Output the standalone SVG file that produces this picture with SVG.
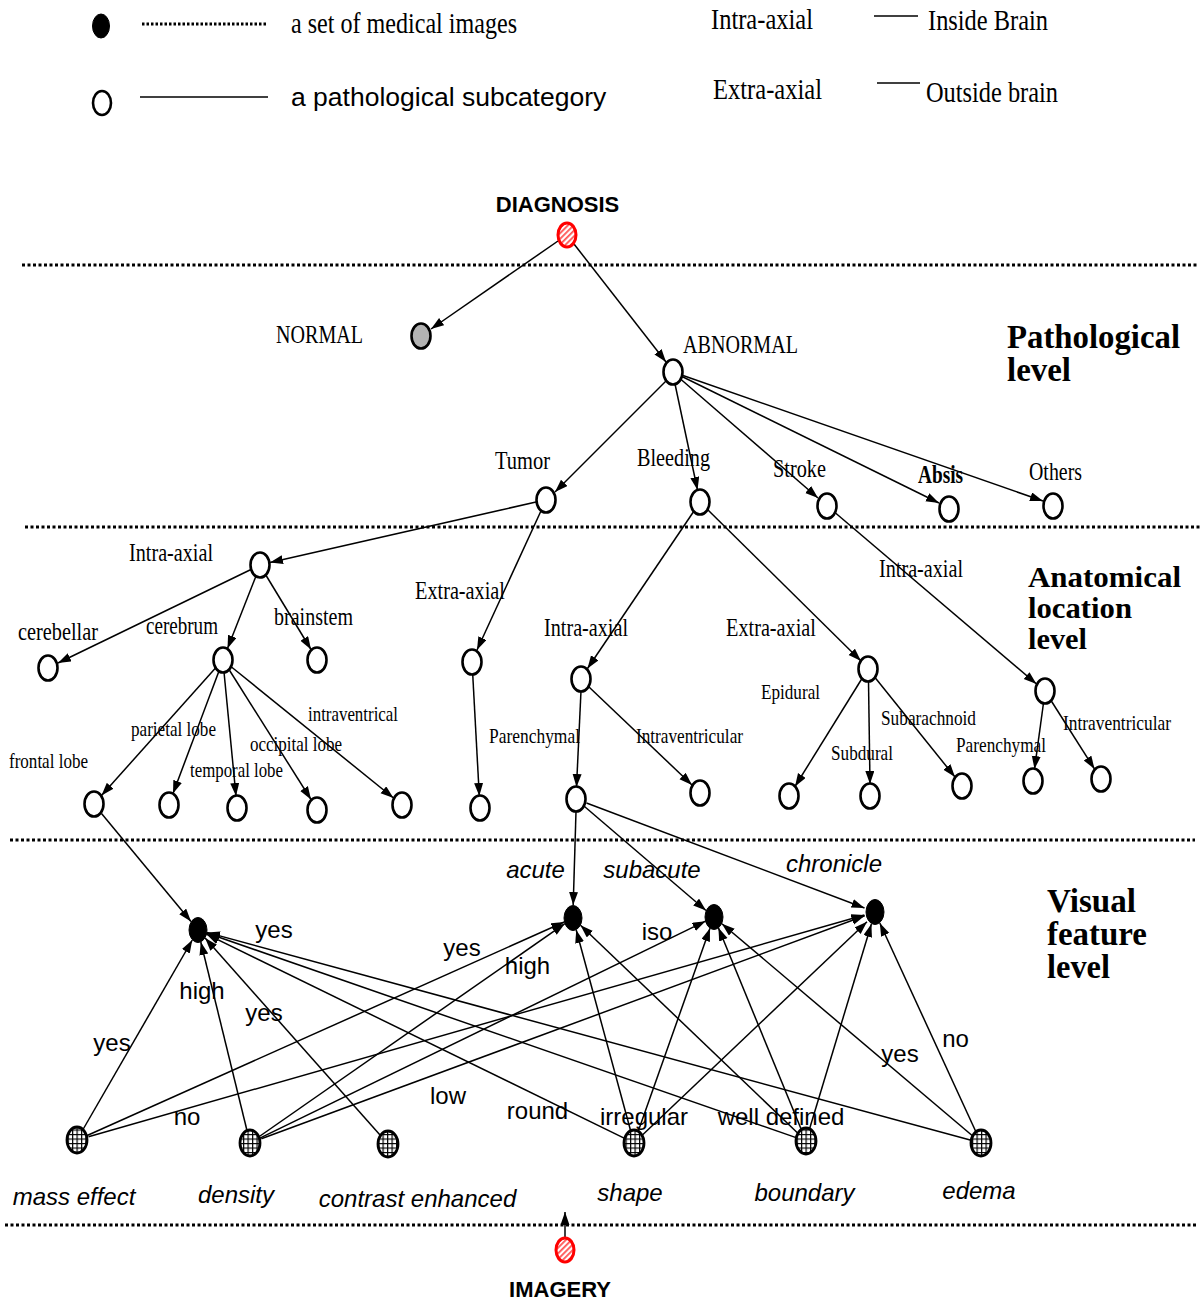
<svg xmlns="http://www.w3.org/2000/svg" width="1201" height="1302" viewBox="0 0 1201 1302">
<defs>
<marker id="arr" markerUnits="userSpaceOnUse" markerWidth="14" markerHeight="10" refX="13" refY="4.5" orient="auto"><path d="M0,0 L13,4.5 L0,9 z" fill="#000"/></marker>
<pattern id="hatch" patternUnits="userSpaceOnUse" width="4" height="4" patternTransform="rotate(-45)"><rect width="4" height="4" fill="#fff"/><rect width="4" height="1.8" fill="#f55"/></pattern>
<pattern id="grid" patternUnits="userSpaceOnUse" width="4.5" height="4.5"><rect width="4.5" height="4.5" fill="#fff"/><path d="M0,0.6 H4.5 M0.6,0 V4.5" stroke="#000" stroke-width="1.2"/></pattern>
</defs>
<style>
.n{fill:#fff;stroke:#000;stroke-width:2.6}
.v{fill:#000;stroke:#000;stroke-width:1}
.g{fill:url(#grid);stroke:#000;stroke-width:2.8}
.r{fill:url(#hatch);stroke:#f00;stroke-width:3}
.e{stroke:#000;stroke-width:1.5;fill:none;marker-end:url(#arr)}
.dot{stroke:#000;stroke-width:3;stroke-dasharray:3 2.5}
.t{font-family:"Liberation Serif","Times New Roman",serif;font-size:26px;fill:#000}
.ts{font-family:"Liberation Serif","Times New Roman",serif;font-size:22px;fill:#000}
.tl{font-family:"Liberation Serif","Times New Roman",serif;font-size:30px;fill:#000}
.h{font-family:"Liberation Serif","Times New Roman",serif;font-size:33px;font-weight:bold;fill:#000}
.h2{font-family:"Liberation Serif","Times New Roman",serif;font-size:30px;font-weight:bold;fill:#000}
.s{font-family:"Liberation Sans",Arial,sans-serif;font-size:24px;fill:#000}
.si{font-family:"Liberation Sans",Arial,sans-serif;font-size:24px;font-style:italic;fill:#000}
.b{font-family:"Liberation Sans",Arial,sans-serif;font-size:22px;font-weight:bold;fill:#000}
</style>
<rect width="1201" height="1302" fill="#fff"/>

<g id="legend">
<ellipse cx="101" cy="26" rx="8.5" ry="12" class="v"/>
<line x1="142" y1="24" x2="267" y2="24" stroke="#000" stroke-width="3" stroke-dasharray="2.5 2"/>
<text x="291" y="33" class="tl" textLength="226" lengthAdjust="spacingAndGlyphs">a set of medical images</text>
<ellipse cx="102" cy="103" rx="9" ry="12" class="n"/>
<line x1="140" y1="97" x2="268" y2="97" stroke="#000" stroke-width="1.6"/>
<text x="291" y="106" class="s" style="font-size:26.5px">a pathological subcategory</text>
<text x="711" y="29" class="tl" textLength="102" lengthAdjust="spacingAndGlyphs">Intra-axial</text>
<line x1="874" y1="16" x2="918" y2="16" stroke="#000" stroke-width="1.6"/>
<text x="928" y="30" class="tl" textLength="120" lengthAdjust="spacingAndGlyphs">Inside Brain</text>
<text x="713" y="99" class="tl" textLength="109" lengthAdjust="spacingAndGlyphs">Extra-axial</text>
<line x1="877" y1="83" x2="920" y2="83" stroke="#000" stroke-width="1.6"/>
<text x="926" y="102" class="tl" textLength="132" lengthAdjust="spacingAndGlyphs">Outside brain</text>
</g>

<g id="dividers">
<line x1="22" y1="265" x2="1198" y2="265" class="dot"/>
<line x1="25" y1="527" x2="1200" y2="527" class="dot"/>
<line x1="10" y1="840" x2="1195" y2="840" class="dot"/>
<line x1="5" y1="1225" x2="1198" y2="1225" class="dot"/>
</g>

<g id="levels">
<text x="1007" y="348" class="h" textLength="173" lengthAdjust="spacingAndGlyphs">Pathological</text>
<text x="1007" y="381" class="h" textLength="64" lengthAdjust="spacingAndGlyphs">level</text>
<text x="1028" y="587" class="h2" textLength="153" lengthAdjust="spacingAndGlyphs">Anatomical</text>
<text x="1028" y="618" class="h2" textLength="104" lengthAdjust="spacingAndGlyphs">location</text>
<text x="1028" y="649" class="h2" textLength="59" lengthAdjust="spacingAndGlyphs">level</text>
<text x="1047" y="912" class="h" textLength="89" lengthAdjust="spacingAndGlyphs">Visual</text>
<text x="1047" y="945" class="h" textLength="100" lengthAdjust="spacingAndGlyphs">feature</text>
<text x="1047" y="978" class="h" textLength="63" lengthAdjust="spacingAndGlyphs">level</text>
</g>

<g id="connectors">
<line x1="558" y1="241" x2="431" y2="329" class="e"/>
<line x1="574" y1="244" x2="666" y2="362" class="e"/>
<line x1="666" y1="381" x2="555" y2="492" class="e"/>
<line x1="675" y1="384" x2="697.5" y2="490" class="e"/>
<line x1="680.5" y1="379" x2="818" y2="498" class="e"/>
<line x1="682" y1="376.5" x2="939" y2="503" class="e"/>
<line x1="683" y1="375.5" x2="1043" y2="501" class="e"/>
<line x1="536" y1="502" x2="270" y2="562.5" class="e"/>
<line x1="541.4" y1="510" x2="477" y2="650" class="e"/>
<line x1="251" y1="569.5" x2="58" y2="663" class="e"/>
<line x1="256" y1="576" x2="227.5" y2="648.5" class="e"/>
<line x1="265.5" y1="574.5" x2="311" y2="649.5" class="e"/>
<line x1="215.5" y1="668" x2="101.5" y2="795.5" class="e"/>
<line x1="219" y1="671" x2="173" y2="793.5" class="e"/>
<line x1="224" y1="672" x2="236" y2="796" class="e"/>
<line x1="229" y1="669.5" x2="311" y2="799.5" class="e"/>
<line x1="231.5" y1="667" x2="393.5" y2="798" class="e"/>
<line x1="472.7" y1="674" x2="479.3" y2="796" class="e"/>
<line x1="694" y1="511" x2="587.5" y2="668.5" class="e"/>
<line x1="708" y1="510" x2="861" y2="661" class="e"/>
<line x1="581" y1="691" x2="576.5" y2="787" class="e"/>
<line x1="589" y1="687" x2="692" y2="785" class="e"/>
<line x1="862" y1="678.5" x2="795" y2="786.5" class="e"/>
<line x1="868.5" y1="681" x2="870" y2="784" class="e"/>
<line x1="875" y1="677.5" x2="955" y2="777" class="e"/>
<line x1="835.5" y1="513" x2="1036.5" y2="684" class="e"/>
<line x1="1043.5" y1="703" x2="1034.5" y2="769" class="e"/>
<line x1="1051" y1="700.5" x2="1094.5" y2="769" class="e"/>
<line x1="101.5" y1="813.5" x2="191" y2="921.5" class="e"/>
<line x1="576" y1="811.5" x2="573.2" y2="905" class="e"/>
<line x1="584.5" y1="806.5" x2="706" y2="910.5" class="e"/>
<line x1="586.5" y1="803" x2="864.5" y2="908" class="e"/>
<line x1="82.7" y1="1130" x2="192.3" y2="940" class="e"/>
<line x1="86.6" y1="1135.7" x2="564.2" y2="922" class="e"/>
<line x1="88.5" y1="1136.7" x2="864.4" y2="915" class="e"/>
<line x1="247.1" y1="1131" x2="200.8" y2="942" class="e"/>
<line x1="258.6" y1="1137" x2="564.8" y2="923.7" class="e"/>
<line x1="259.4" y1="1138.4" x2="705.5" y2="921.2" class="e"/>
<line x1="261.3" y1="1138.8" x2="864.7" y2="915.8" class="e"/>
<line x1="380.7" y1="1135.8" x2="205.1" y2="938" class="e"/>
<line x1="624.6" y1="1138.4" x2="206.5" y2="934.2" class="e"/>
<line x1="630.7" y1="1131" x2="576.2" y2="930" class="e"/>
<line x1="638.2" y1="1131.2" x2="710" y2="928.3" class="e"/>
<line x1="642.7" y1="1134.7" x2="867" y2="921.7" class="e"/>
<line x1="796.1" y1="1137.6" x2="206.8" y2="933" class="e"/>
<line x1="798.4" y1="1133.7" x2="580.5" y2="925.2" class="e"/>
<line x1="801.4" y1="1129.8" x2="718.4" y2="927.8" class="e"/>
<line x1="809.5" y1="1129" x2="871.4" y2="924" class="e"/>
<line x1="971.1" y1="1140.3" x2="206.9" y2="932.4" class="e"/>
<line x1="973" y1="1136.2" x2="721.9" y2="923.7" class="e"/>
<line x1="976" y1="1132" x2="879.8" y2="923" class="e"/>
<line x1="565" y1="1238" x2="565" y2="1212" class="e"/>
</g>

<g id="edge-labels">
<text x="535.5" y="878" class="si" text-anchor="middle">acute</text>
<text x="652" y="878" class="si" text-anchor="middle">subacute</text>
<text x="834" y="872" class="si" text-anchor="middle">chronicle</text>
<text x="274" y="938" class="s" text-anchor="middle">yes</text>
<text x="462" y="956" class="s" text-anchor="middle">yes</text>
<text x="527.5" y="974" class="s" text-anchor="middle">high</text>
<text x="657" y="940" class="s" text-anchor="middle">iso</text>
<text x="202" y="999" class="s" text-anchor="middle">high</text>
<text x="264" y="1021" class="s" text-anchor="middle">yes</text>
<text x="112" y="1051" class="s" text-anchor="middle">yes</text>
<text x="187" y="1125" class="s" text-anchor="middle">no</text>
<text x="448" y="1104" class="s" text-anchor="middle">low</text>
<text x="537.5" y="1119" class="s" text-anchor="middle">round</text>
<text x="644" y="1125" class="s" text-anchor="middle">irregular</text>
<text x="781" y="1125" class="s" text-anchor="middle">well defined</text>
<text x="900" y="1062" class="s" text-anchor="middle">yes</text>
<text x="955.5" y="1047" class="s" text-anchor="middle">no</text>
</g>

<g id="n-diagnosis"><ellipse cx="567" cy="235" rx="9" ry="12" class="r"/><text x="557.5" y="212" class="b" text-anchor="middle">DIAGNOSIS</text></g>
<g id="n-normal"><ellipse cx="421" cy="336" rx="9.5" ry="12.5" fill="#b3b3b3" stroke="#000" stroke-width="2.6"/><text x="276" y="343" class="t" textLength="87" lengthAdjust="spacingAndGlyphs">NORMAL</text></g>
<g id="n-abnormal"><ellipse cx="673" cy="372" rx="9.5" ry="12.5" class="n"/><text x="683" y="353" class="t" textLength="115" lengthAdjust="spacingAndGlyphs">ABNORMAL</text></g>
<g id="n-tumor"><ellipse cx="546" cy="500" rx="9.5" ry="12.5" class="n"/><text x="495" y="469" class="t" textLength="55" lengthAdjust="spacingAndGlyphs">Tumor</text></g>
<g id="n-bleeding"><ellipse cx="700" cy="502" rx="9.5" ry="12.5" class="n"/><text x="637" y="466" class="t" textLength="73" lengthAdjust="spacingAndGlyphs">Bleeding</text></g>
<g id="n-stroke"><ellipse cx="827" cy="506" rx="9.5" ry="12.5" class="n"/><text x="773" y="477" class="t" textLength="53" lengthAdjust="spacingAndGlyphs">Stroke</text></g>
<g id="n-absis"><ellipse cx="949" cy="509" rx="9.5" ry="12.5" class="n"/><text x="918" y="483" class="t" font-weight="bold" textLength="45" lengthAdjust="spacingAndGlyphs">Absis</text></g>
<g id="n-others"><ellipse cx="1053" cy="506" rx="9.5" ry="12.5" class="n"/><text x="1029" y="480" class="t" textLength="53" lengthAdjust="spacingAndGlyphs">Others</text></g>

<g id="n-tumor-intra"><ellipse cx="260" cy="565" rx="9.5" ry="12.5" class="n"/><text x="129" y="561" class="t" textLength="84" lengthAdjust="spacingAndGlyphs">Intra-axial</text></g>
<g id="n-tumor-extra"><ellipse cx="472" cy="662" rx="9.5" ry="12.5" class="n"/><text x="415" y="599" class="t" textLength="90" lengthAdjust="spacingAndGlyphs">Extra-axial</text></g>
<g id="n-cerebellar"><ellipse cx="48" cy="668" rx="9.5" ry="12.5" class="n"/><text x="18" y="640" class="t" textLength="80" lengthAdjust="spacingAndGlyphs">cerebellar</text></g>
<g id="n-cerebrum"><ellipse cx="223" cy="660" rx="9.5" ry="12.5" class="n"/><text x="146" y="634" class="t" textLength="72" lengthAdjust="spacingAndGlyphs">cerebrum</text></g>
<g id="n-brainstem"><ellipse cx="317" cy="660" rx="9.5" ry="12.5" class="n"/><text x="274" y="625" class="t" textLength="79" lengthAdjust="spacingAndGlyphs">brainstem</text></g>
<g id="n-frontal"><ellipse cx="94" cy="804" rx="9.5" ry="12.5" class="n"/><text x="9" y="768" class="ts" textLength="79" lengthAdjust="spacingAndGlyphs">frontal lobe</text></g>
<g id="n-parietal"><ellipse cx="169" cy="805" rx="9.5" ry="12.5" class="n"/><text x="131" y="736" class="ts" textLength="85" lengthAdjust="spacingAndGlyphs">parietal lobe</text></g>
<g id="n-temporal"><ellipse cx="237" cy="808" rx="9.5" ry="12.5" class="n"/><text x="190" y="777" class="ts" textLength="93" lengthAdjust="spacingAndGlyphs">temporal lobe</text></g>
<g id="n-occipital"><ellipse cx="317" cy="810" rx="9.5" ry="12.5" class="n"/><text x="250" y="751" class="ts" textLength="92" lengthAdjust="spacingAndGlyphs">occipital lobe</text></g>
<g id="n-intraventrical"><ellipse cx="402" cy="805" rx="9.5" ry="12.5" class="n"/><text x="308" y="721" class="ts" textLength="90" lengthAdjust="spacingAndGlyphs">intraventrical</text></g>
<g id="n-tumor-extra-child"><ellipse cx="480" cy="808" rx="9.5" ry="12.5" class="n"/></g>

<g id="n-bleeding-intra"><ellipse cx="581" cy="679" rx="9.5" ry="12.5" class="n"/><text x="544" y="636" class="t" textLength="84" lengthAdjust="spacingAndGlyphs">Intra-axial</text></g>
<g id="n-bleeding-extra"><ellipse cx="868" cy="669" rx="9.5" ry="12.5" class="n"/><text x="726" y="636" class="t" textLength="90" lengthAdjust="spacingAndGlyphs">Extra-axial</text></g>
<g id="n-parenchymal"><ellipse cx="576" cy="799" rx="9.5" ry="12.5" class="n"/><text x="489" y="743" class="ts" textLength="91" lengthAdjust="spacingAndGlyphs">Parenchymal</text></g>
<g id="n-intraventricular"><ellipse cx="700" cy="793" rx="9.5" ry="12.5" class="n"/><text x="636" y="743" class="ts" textLength="107" lengthAdjust="spacingAndGlyphs">Intraventricular</text></g>
<g id="n-epidural"><ellipse cx="789" cy="796" rx="9.5" ry="12.5" class="n"/><text x="761" y="699" class="ts" textLength="59" lengthAdjust="spacingAndGlyphs">Epidural</text></g>
<g id="n-subdural"><ellipse cx="870" cy="796" rx="9.5" ry="12.5" class="n"/><text x="831" y="760" class="ts" textLength="62" lengthAdjust="spacingAndGlyphs">Subdural</text></g>
<g id="n-subarachnoid"><ellipse cx="962" cy="786" rx="9.5" ry="12.5" class="n"/><text x="881" y="725" class="ts" textLength="95" lengthAdjust="spacingAndGlyphs">Subarachnoid</text></g>

<g id="n-stroke-intra"><ellipse cx="1045" cy="691" rx="9.5" ry="12.5" class="n"/><text x="879" y="577" class="t" textLength="84" lengthAdjust="spacingAndGlyphs">Intra-axial</text></g>
<g id="n-stroke-parenchymal"><ellipse cx="1033" cy="781" rx="9.5" ry="12.5" class="n"/><text x="956" y="752" class="ts" textLength="90" lengthAdjust="spacingAndGlyphs">Parenchymal</text></g>
<g id="n-stroke-intraventricular"><ellipse cx="1101" cy="779" rx="9.5" ry="12.5" class="n"/><text x="1063" y="730" class="ts" textLength="108" lengthAdjust="spacingAndGlyphs">Intraventricular</text></g>

<g id="n-v1"><ellipse cx="198" cy="930" rx="9" ry="12.5" class="v"/></g>
<g id="n-v2"><ellipse cx="573" cy="918" rx="9" ry="12.5" class="v"/></g>
<g id="n-v3"><ellipse cx="714" cy="917" rx="9" ry="12.5" class="v"/></g>
<g id="n-v4"><ellipse cx="875" cy="912" rx="9" ry="12.5" class="v"/></g>

<g id="n-mass-effect"><ellipse cx="77" cy="1140" rx="10" ry="13" class="g"/><text x="74" y="1205" class="si" text-anchor="middle">mass effect</text></g>
<g id="n-density"><ellipse cx="250" cy="1143" rx="10" ry="13" class="g"/><text x="236" y="1203" class="si" text-anchor="middle">density</text></g>
<g id="n-contrast"><ellipse cx="388" cy="1144" rx="10" ry="13" class="g"/><text x="417.5" y="1207" class="si" text-anchor="middle">contrast enhanced</text></g>
<g id="n-shape"><ellipse cx="634" cy="1143" rx="10" ry="13" class="g"/><text x="630" y="1201" class="si" text-anchor="middle">shape</text></g>
<g id="n-boundary"><ellipse cx="806" cy="1141" rx="10" ry="13" class="g"/><text x="804.5" y="1201" class="si" text-anchor="middle">boundary</text></g>
<g id="n-edema"><ellipse cx="981" cy="1143" rx="10" ry="13" class="g"/><text x="979" y="1199" class="si" text-anchor="middle">edema</text></g>

<g id="n-imagery"><ellipse cx="565" cy="1250" rx="9" ry="12" class="r"/><text x="560" y="1297" class="b" text-anchor="middle">IMAGERY</text></g>
</svg>
